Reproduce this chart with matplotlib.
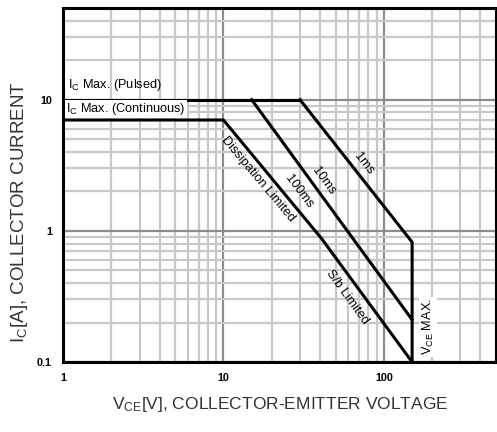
import matplotlib
matplotlib.use('Agg')
import matplotlib.pyplot as plt
from matplotlib.ticker import LogLocator, NullFormatter, FixedLocator

plt.rcParams['font.family'] = ['Liberation Sans', 'DejaVu Sans']
plt.rcParams['mathtext.default'] = 'regular'

# safe operating area curves (VCE [V], IC [A])
pulsed_v = [1, 30]
pulsed_i = [10, 10]
ms1_v = [30, 150, 150]
ms1_i = [10, 0.82, 0.1]
ms10_v = [15, 150]
ms10_i = [10, 0.21]
dc_v = [1, 10, 41, 150]
dc_i = [7, 7, 0.87, 0.1]

xticks = [1, 10, 100]
xtick_labels = ["1", "10", "100"]
yticks = [0.1, 1, 10]
ytick_labels = ["0.1", "1", "10"]

fig = plt.figure(figsize=(4.97, 4.32), dpi=100)
ax = fig.add_axes([63 / 497, 1 - 362 / 432, 433 / 497, 354 / 432])
ax.set_xscale("log")
ax.set_yscale("log")
ax.set_xlim(1, 500)
ax.set_ylim(0.1, 50)

ax.xaxis.set_major_locator(FixedLocator(xticks))
ax.yaxis.set_major_locator(FixedLocator(yticks))
ax.set_xticklabels(xtick_labels, fontsize=7.8, fontweight="bold")
ax.set_yticklabels(ytick_labels, fontsize=7.8, fontweight="bold")
ax.xaxis.set_minor_locator(LogLocator(base=10, subs=range(2, 10)))
ax.yaxis.set_minor_locator(LogLocator(base=10, subs=range(2, 10)))
ax.xaxis.set_minor_formatter(NullFormatter())
ax.yaxis.set_minor_formatter(NullFormatter())
ax.tick_params(which="both", length=0, pad=8)
ax.grid(which="minor", color="#c8c8c8", lw=1.6)
ax.grid(which="major", color="#8c8c8c", lw=1.6)
ax.set_axisbelow(True)
for s in ax.spines.values():
    s.set_linewidth(2.2)

lw = 2.2
ax.plot(pulsed_v, pulsed_i, color="black", lw=lw)
ax.plot(ms1_v, ms1_i, color="black", lw=lw)
ax.plot(ms10_v, ms10_i, color="black", lw=lw)
ax.plot(dc_v, dc_i, color="black", lw=lw)

fs = 9.2
ax.text(1.07, 13.0, "I$_C$ Max. (Pulsed)", fontsize=fs, va="center")
ax.text(1.045, 8.5, "I$_C$ Max. (Continuous)", fontsize=fs, va="center",
        bbox=dict(facecolor="white", edgecolor="none", pad=1))
ax.text(16.5, 2.49, "Dissipation Limited", fontsize=fs, rotation=-50,
        ha="center", va="center")
ax.text(29.7, 1.98, "100ms", fontsize=fs, rotation=-53, ha="center", va="center")
ax.text(42.3, 2.41, "10ms", fontsize=fs, rotation=-54, ha="center", va="center")
ax.text(75.1, 3.25, "1ms", fontsize=fs, rotation=-52, ha="center", va="center")
ax.text(58.9, 0.314, "S/b Limited", fontsize=fs, rotation=-54, ha="center", va="center")
ax.text(189, 0.185, "V$_{CE}$ MAX.", fontsize=fs, rotation=90, ha="center", va="center",
        bbox=dict(facecolor="white", edgecolor="none", pad=1))

fig.text(280 / 497, 1 - 405 / 432, "V$_{CE}$[V], COLLECTOR-EMITTER VOLTAGE",
         fontsize=12.5, color="#333333", ha="center", va="center")
fig.text(20 / 497, 1 - 212 / 432, "I$_C$[A], COLLECTOR CURRENT", fontsize=13.5,
         color="#333333", rotation=90, ha="center", va="center")

fig.savefig("out.png", dpi=100)
